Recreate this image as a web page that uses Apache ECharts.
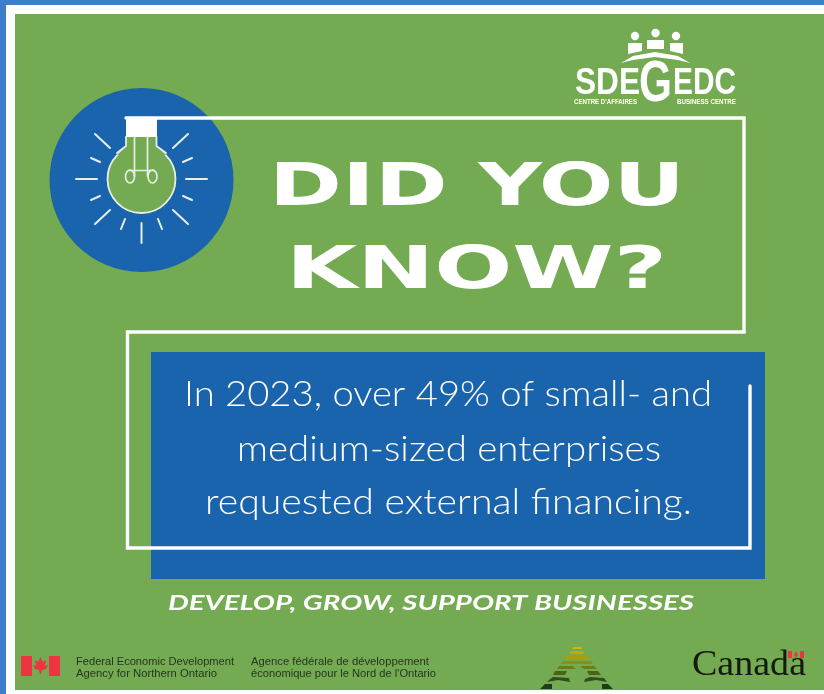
<!DOCTYPE html>
<html><head><meta charset="utf-8">
<style>html,body{margin:0;padding:0;background:#fff}#c{width:824px;height:694px;filter:blur(0.55px)}</style>
<script src="https://cdn.jsdelivr.net/npm/echarts@6/dist/echarts.min.js"></script>
</head><body><div id="c"></div>
<script>
const headlineLines = ["DID YOU", "KNOW?"];
const bodyLines = ["In 2023, over 49% of small- and", "medium-sized enterprises", "requested external financing."];
const tagline = "DEVELOP, GROW, SUPPORT BUSINESSES";
const agencyEn = ["Federal Economic Development", "Agency for Northern Ontario"];
const agencyFr = ["Agence fédérale de développement", "économique pour le Nord de l'Ontario"];
const logoWords = ["SDE", "G", "EDC"];
const logoSub = ["CENTRE D'AFFAIRES", "BUSINESS CENTRE"];
const wordmark = "Canada";

const GREEN='#73aa52', BLUE='#1a63ad', EDGE='#3f7ec9', W='#ffffff', LINE='#e6eee6', INK='#26361f';
const mc=document.createElement('canvas').getContext('2d');
function T(s,x,y,o){
  const font=o.font||'Lato', size=o.size, weight=o.weight||'normal', style=o.style||'normal';
  const f=style+' '+weight+' '+size+'px "'+font+'"';
  mc.font=f; mc.textBaseline='middle';
  const m=mc.measureText('H');
  const sx=o.w?o.w/mc.measureText(s).width:1;
  return {type:'text',x:x,y:y-m.actualBoundingBoxDescent,scaleX:sx,z:o.z||5,style:{text:s,fill:o.fill||W,font:f,align:'left',verticalAlign:'middle'}};
}
const R=(x,y,w,h,fill,z)=>({type:'rect',z:z||1,shape:{x,y,width:w,height:h},style:{fill}});
const L=(pts,color,lw,z)=>({type:'polyline',z:z||3,shape:{points:pts},style:{stroke:color,lineWidth:lw,fill:null,lineCap:'round',lineJoin:'miter'}});
const P=(pts,fill,z)=>({type:'polygon',z:z||3,shape:{points:pts},style:{fill}});

const rays=[[[76,179],[97,179]],[[186,179],[207,179]],[[141.5,223],[141.5,243]],[[95,134],[110,148]],[[188,134],[173,148]],[[95,224],[110,210]],[[188,224],[173,210]],
 [[91,158],[100,162]],[[183,162],[192,158]],[[91,200],[100,196]],[[183,196],[192,200]],[[121,229],[125,219]],[[162,229],[158,219]]];

const els=[
 R(0,0,824,694,W,0),
 R(0,0,824,5,EDGE,1),R(0,0,6,694,EDGE,1),
 R(15,14,809,676,GREEN,1),
 {type:'circle',z:2,shape:{cx:141.5,cy:180,r:92},style:{fill:BLUE}},
 R(151,352,614,227,BLUE,2),
 // frame
 L([[126,118],[744,118],[744,332],[127.5,332],[127.5,548],[750,548],[750,386]],W,3.4,4),
 // bulb
 {type:'circle',z:4,shape:{cx:141.5,cy:179,r:34},style:{fill:GREEN,stroke:LINE,lineWidth:1.8}},
 P([[127,137],[156,137],[156,146],[166,155],[117,155],[127,146]],GREEN,4),
 L([[126,137],[126,146],[117,153]],LINE,1.8,4),L([[156.5,137],[156.5,146],[166,153]],LINE,1.8,4),
 R(126,117,31,20,W,5),
 L([[134.5,137],[134.5,176]],LINE,1.7,5),L([[147.5,137],[147.5,176]],LINE,1.7,5),
 L([[129,170.5],[154,170.5]],LINE,1.7,5),
 {type:'ellipse',z:5,shape:{cx:130,cy:176.5,rx:4.5,ry:6.5},style:{fill:null,stroke:LINE,lineWidth:1.7}},
 {type:'ellipse',z:5,shape:{cx:152.5,cy:176.5,rx:4.5,ry:6.5},style:{fill:null,stroke:LINE,lineWidth:1.7}},
 ...rays.map(r=>L(r,LINE,2,4)),
 // headline
 T(headlineLines[0],269,204.5,{font:'DejaVu Sans',weight:'bold',size:58,w:416}),
 T(headlineLines[1],286,288,{font:'DejaVu Sans',weight:'bold',size:58,w:381}),
 // body
 T(bodyLines[0],184,406,{size:36,weight:300,w:528,font:'Lato'}),
 T(bodyLines[1],237,461,{size:36,weight:300,w:424,font:'Lato'}),
 T(bodyLines[2],205,514,{size:36,weight:300,w:487,font:'Lato'}),
 // tagline
 T(tagline,168,610,{font:'Lato',weight:'bold',style:'italic',size:21,w:526}),
 // SDEGEDC logo
 ...[[635,36,4.2],[655.5,33,4.2],[676,36,4.2]].map(h=>({type:'circle',z:5,shape:{cx:h[0],cy:h[1],r:h[2]},style:{fill:W}})),
 P([[628,43],[642,43],[642,51],[628,54]],W,5),P([[647,40],[664,40],[664,49],[647,49]],W,5),P([[670,43],[683,43],[683,54],[670,51]],W,5),
 P([[621,63],[633,56],[655,52],[678,56],[690,63],[678,60],[655,57],[633,60]],W,5),
 T(logoWords[0],575,94,{font:'Liberation Sans',weight:'bold',size:36,w:65}),
 T(logoWords[1],639,101,{font:'Liberation Sans',weight:'bold',size:58,w:33}),
 T(logoWords[2],673,94,{font:'Liberation Sans',weight:'bold',size:36,w:63}),
 T(logoSub[0],574,104,{font:'Liberation Sans',weight:'bold',size:6.5,w:63}),
 T(logoSub[1],677,104,{font:'Liberation Sans',weight:'bold',size:6.5,w:59}),
 // flag
 R(21,656,11,20,'#ee3341',5),R(49,656,11,20,'#ee3341',5),
 P([[40.5,657],[43,662],[46,660],[45,666],[48,665],[46,669],[42,670],[41,674],[40,674],[39,670],[35,669],[33,665],[36,666],[35,660],[38,662]],'#ee3341',5),
 // agency text
 T(agencyEn[0],76,665,{font:'Liberation Sans',size:11,w:158,fill:INK}),
 T(agencyEn[1],76,677,{font:'Liberation Sans',size:11,w:141,fill:INK}),
 T(agencyFr[0],251,665,{font:'Liberation Sans',size:11,w:178,fill:INK}),
 T(agencyFr[1],251,677,{font:'Liberation Sans',size:11,w:185,fill:INK}),
 // pyramid mark
 P([[572,649],[582,649],[581,647],[573,647]],'#c9b813',5),
 P([[569,654],[585,654],[583,651],[571,651]],'#b9ab10',5),
 P([[565,659],[589,659],[587,656],[567,656]],'#a5a00e',5),
 P([[560,664],[593,664],[591,661],[563,661]],'#8d900f',5),
 P([[557,669],[576,669],[572,666],[559,666]],'#6f7e12',5),P([[584,669],[597,669],[594,666],[580,666]],'#6f7e12',5),
 P([[553,675],[565,675],[567,671],[555,671]],'#4a6417',5),P([[589,675],[601,675],[598,671],[587,671]],'#4a6417',5),
 P([[547,682],[558,680],[570,682],[569,678],[553,677],[549,680]],'#2f4f1e',5),P([[584,682],[596,680],[607,682],[604,678],[590,677],[585,679]],'#2f4f1e',5),
 P([[540,689],[552,689],[552,684],[545,684]],'#1f3c1f',5),P([[602,689],[613,689],[608,684],[602,684]],'#1f3c1f',5),
 // Canada
 T(wordmark,692,675,{font:'Liberation Serif',size:36,w:114,fill:'#141a12'}),
 R(788,651,4,7,'#ee3341',6),R(800,651,4,7,'#ee3341',6),
 P([[796,651],[798,655],[796,658],[794,655]],'#ee3341',6)
];
const chart=echarts.init(document.getElementById('c'),null,{renderer:'canvas',width:824,height:694});
chart.setOption({animation:false,backgroundColor:'#fff',graphic:{elements:els}});
</script></body></html>
